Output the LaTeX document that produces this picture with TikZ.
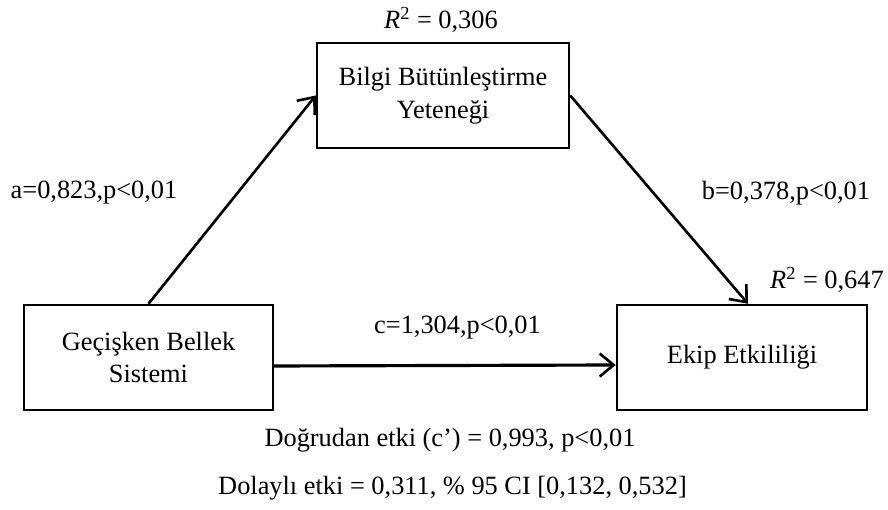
\documentclass[tikz,border=0pt]{standalone}
\usepackage{fontspec}
\setmainfont{Liberation Serif}
\usepackage{tikz}
\usetikzlibrary{positioning,arrows.meta}

\begin{document}
\begin{tikzpicture}[
    varbox/.style={rectangle, draw, line width=1.4pt, minimum width=5cm, minimum height=2.1cm, align=center, font=\fontsize{15}{18.5}\selectfont},
    pathlabel/.style={font=\fontsize{15}{18.5}\selectfont},
    >={Straight Barb[length=2.8mm, width=4.6mm, line width=1.5pt]}
]
\useasboundingbox (0,0) rectangle (17.76,10.2);

% ----- Variables -----
\node[varbox, minimum width=5.04cm] (bilgi) at (8.86,8.29) {Bilgi Bütünleştirme\\Yeteneği};
\node[varbox, minimum width=4.98cm] (bellek) at (2.97,3.05) {Geçişken Bellek\\Sistemi};
\node[varbox] (ekip) at (14.84,3.05) {Ekip Etkililiği};

% ----- R squared -----
\node[pathlabel] (r2bilgi) at (8.82,9.8) {\textit{R}\textsuperscript{2} = 0,306};
\node[pathlabel] (r2ekip) at (16.54,4.6) {\textit{R}\textsuperscript{2} = 0,647};

% ----- Path coefficients -----
\node[pathlabel] (apath) at (1.88,6.34) {a=0,823,p<0,01};
\node[pathlabel] (bpath) at (15.72,6.34) {b=0,378,p<0,01};
\node[pathlabel] (cpath) at (9.15,3.64) {c=1,304,p<0,01};

% ----- Effects -----
\node[pathlabel] (direct) at (9.0,1.4) {Doğrudan etki (c’) = 0,993, p<0,01};
\node[pathlabel] (indirect) at (9.05,0.44) {Dolaylı etki = 0,311, \% 95 CI [0,132, 0,532]};

% ----- Connections -----
\draw[->, line width=1.5pt] (bellek.north) -- (bilgi.west);
\draw[->, line width=1.5pt] (bilgi.east) -- ([xshift=1.2mm]ekip.north);
\draw[->, line width=1.8pt] ([yshift=-1.7mm]bellek.east) -- ([yshift=-1.5mm]ekip.west);

\end{tikzpicture}
\end{document}
